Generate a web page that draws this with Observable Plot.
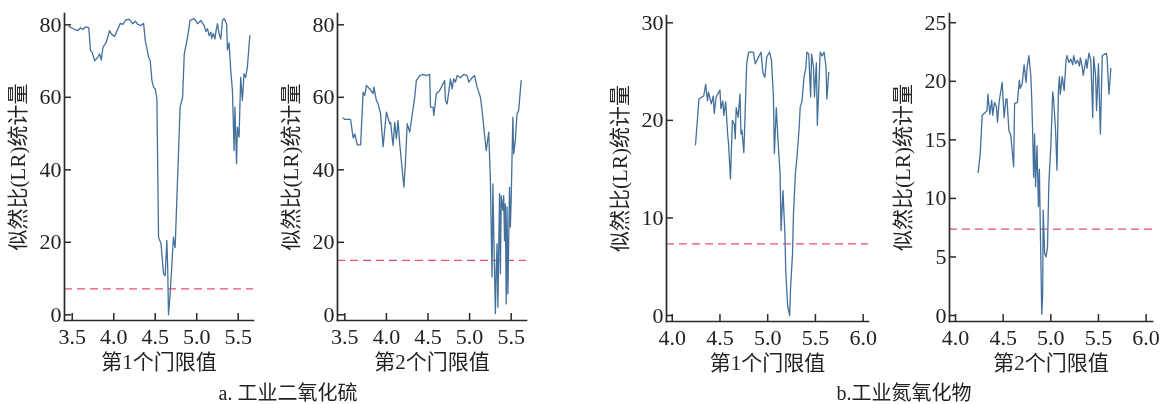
<!DOCTYPE html>
<html><head><meta charset="utf-8">
<script src="https://cdn.jsdelivr.net/npm/d3@7"></script>
<script src="https://cdn.jsdelivr.net/npm/@observablehq/plot@0.6"></script>
<style>
body{margin:0;background:#fff;}
#wrap{position:relative;width:1160px;height:404px;overflow:hidden;font-family:"Liberation Serif","Noto Sans CJK SC",serif;}
.panel{position:absolute;top:0;will-change:transform;transform:translateZ(0);}
.cap{position:absolute;top:377px;font-size:20px;color:#222;white-space:nowrap;transform:translateX(-50%);}
</style></head><body><div id="wrap"></div>
<script>
// ---- Data ----
const yLabel = "似然比(LR)统计量";
const xLabels = ["第1个门限值", "第2个门限值", "第1个门限值", "第2个门限值"];
const captions = ["a. 工业二氧化硫", "b.工业氮氧化物"];

const ticksX_a = [3.5, 4.0, 4.5, 5.0, 5.5];
const ticksY_a = [0, 20, 40, 60, 80];
const ticksX_b = [4.0, 4.5, 5.0, 5.5, 6.0];
const ticksY_b1 = [0, 10, 20, 30];
const ticksY_b2 = [0, 5, 10, 15, 20, 25];

const critical = [7.17, 15.0, 7.35, 7.38];

// a. 工业二氧化硫 — 第1个门限值
const a1x = [3.46,3.49,3.53,3.57,3.60,3.63,3.66,3.70,3.72,3.74,3.77,3.81,3.83,3.85,3.87,3.91,3.95,3.97,4.01,4.05,4.08,4.11,4.15,4.19,4.23,4.26,4.29,4.33,4.36,4.38,4.42,4.44,4.46,4.48,4.50,4.52,4.54,4.57,4.60,4.62,4.64,4.65,4.66,4.68,4.72,4.73,4.74,4.77,4.80,4.83,4.85,4.89,4.92,4.97,5.01,5.05,5.09,5.11,5.13,5.15,5.17,5.18,5.20,5.22,5.23,5.25,5.27,5.29,5.31,5.33,5.36,5.37,5.39,5.41,5.43,5.45,5.46,5.48,5.49,5.51,5.53,5.55,5.57,5.59,5.61,5.64];
const a1y = [79.5,79.2,78.7,78.4,79.2,78.7,79.4,79.2,72.9,72.4,70.1,71.1,72.0,70.3,73.8,75.2,78.4,77.5,76.8,78.9,80.4,80.1,81.4,81.5,80.3,81.0,80.1,79.8,80.4,75.7,71.1,70.1,64.6,62.8,62.3,59.6,21.4,19.6,11.3,10.8,20.5,13.1,0.0,5.8,21.4,19.6,18.6,38.0,57.3,60.0,72.0,76.6,81.2,81.7,80.3,81.2,79.8,78.2,78.9,77.0,78.0,76.3,77.6,76.1,78.0,80.3,77.5,76.1,81.2,81.7,80.3,73.1,75.0,67.4,61.9,45.3,57.3,41.7,51.8,49.0,65.5,59.1,66.5,65.5,68.3,77.0];

// a. 工业二氧化硫 — 第2个门限值
const a2x = [3.48,3.50,3.56,3.57,3.60,3.62,3.65,3.69,3.72,3.74,3.76,3.80,3.84,3.85,3.88,3.90,3.93,3.96,4.00,4.04,4.05,4.08,4.10,4.12,4.14,4.16,4.21,4.23,4.25,4.28,4.30,4.34,4.36,4.40,4.44,4.48,4.52,4.53,4.56,4.57,4.60,4.64,4.68,4.70,4.71,4.73,4.77,4.79,4.81,4.83,4.85,4.89,4.93,4.97,4.99,5.03,5.06,5.09,5.13,5.15,5.17,5.20,5.23,5.25,5.27,5.28,5.29,5.31,5.32,5.33,5.34,5.36,5.37,5.38,5.40,5.41,5.42,5.43,5.44,5.45,5.46,5.48,5.49,5.50,5.52,5.53,5.55,5.57,5.59,5.62];
const a2y = [54.3,53.9,53.9,53.8,48.8,49.9,46.9,46.9,61.4,60.5,63.3,62.3,61.0,62.8,59.1,58.2,55.4,46.4,55.9,52.7,53.1,46.7,53.1,48.6,53.6,47.2,35.2,42.6,52.7,50.4,53.6,60.0,64.6,66.0,66.3,66.0,66.3,57.3,57.3,55.0,61.0,61.9,63.7,64.6,59.1,58.2,65.1,62.3,65.1,64.2,66.0,65.4,66.3,66.0,64.2,65.4,66.0,62.8,60.0,56.4,51.8,45.3,50.4,37.0,10.4,36.1,23.3,0.3,12.2,19.6,2.1,33.4,11.3,32.9,28.8,32.9,20.5,30.6,3.0,29.8,5.8,35.2,24.2,32.0,54.5,44.4,48.1,55.4,56.4,64.6];

// b. 工业氮氧化物 — 第1个门限值
const b1x = [4.244,4.28,4.31,4.33,4.35,4.37,4.38,4.41,4.43,4.44,4.46,4.50,4.51,4.53,4.54,4.56,4.58,4.59,4.61,4.63,4.65,4.66,4.67,4.69,4.71,4.72,4.73,4.75,4.76,4.78,4.80,4.82,4.85,4.87,4.91,4.93,4.95,4.97,4.99,5.02,5.04,5.06,5.07,5.09,5.11,5.13,5.14,5.16,5.18,5.19,5.21,5.23,5.24,5.26,5.27,5.29,5.31,5.33,5.34,5.36,5.38,5.40,5.41,5.43,5.45,5.46,5.48,5.49,5.51,5.52,5.55,5.57,5.59,5.61,5.62,5.64];
const b1y = [17.5,22.2,22.4,22.5,23.7,22.0,22.9,21.7,22.5,20.7,22.4,23.1,21.2,22.0,20.5,21.9,18.6,17.6,14.0,20.0,19.6,18.1,21.3,20.3,22.7,18.6,19.0,16.7,19.6,25.8,27.0,27.0,27.0,25.8,26.6,27.0,24.9,24.4,26.5,27.0,26.1,22.4,16.6,21.3,17.6,14.5,8.7,12.8,8.4,4.3,0.9,0.0,2.9,6.3,10.4,14.5,16.6,19.3,21.3,22.0,24.4,25.4,27.0,26.8,22.4,26.8,25.4,22.4,25.9,19.5,27.0,26.6,27.0,25.6,22.2,24.9];

// b. 工业氮氧化物 — 第2个门限值
const b2x = [4.238,4.26,4.28,4.32,4.33,4.34,4.36,4.38,4.39,4.41,4.43,4.44,4.46,4.49,4.51,4.53,4.54,4.56,4.58,4.61,4.62,4.65,4.67,4.68,4.70,4.72,4.74,4.75,4.77,4.79,4.80,4.81,4.82,4.83,4.84,4.855,4.87,4.88,4.895,4.905,4.915,4.92,4.935,4.95,4.965,4.98,5.00,5.02,5.03,5.05,5.065,5.08,5.09,5.10,5.12,5.14,5.16,5.17,5.19,5.21,5.23,5.24,5.26,5.28,5.30,5.31,5.33,5.34,5.37,5.38,5.40,5.42,5.44,5.45,5.47,5.48,5.50,5.52,5.54,5.58,5.59,5.61,5.63];
const b2y = [12.2,13.9,17.1,17.4,17.5,18.9,17.2,18.4,17.1,18.2,17.8,16.5,18.4,19.9,16.9,18.5,18.5,15.8,15.4,12.7,18.1,18.2,20.1,19.4,19.8,21.4,19.9,21.1,22.2,20.5,18.4,15.5,11.8,15.5,11.0,14.5,9.3,12.5,5.0,0.1,1.9,9.0,5.3,5.0,5.8,11.4,14.4,19.1,18.4,15.8,12.4,19.2,20.4,18.9,20.4,19.2,21.8,22.2,21.6,21.9,21.4,22.2,21.5,21.8,21.3,22.0,21.2,20.5,21.9,21.1,22.4,21.8,16.9,22.1,20.4,17.5,21.5,15.5,22.2,22.4,22.1,18.9,21.1];

// ---- Layout ----
const panels = [
  {xs:a1x, ys:a1y, thr:critical[0], xd:[3.407,5.684], yd:[-1.57,83.12], xt:ticksX_a, yt:ticksY_a, xl:xLabels[0], left:0,   width:270, mL:64, mR:17,  mT:13, mB:84},
  {xs:a2x, ys:a2y, thr:critical[1], xd:[3.412,5.684], yd:[-1.57,83.12], xt:ticksX_a, yt:ticksY_a, xl:xLabels[1], left:270, width:270, mL:67, mR:14,  mT:13, mB:84},
  {xs:b1x, ys:b1y, thr:critical[2], xd:[3.940,6.056], yd:[-0.615,30.75], xt:ticksX_b, yt:ticksY_b1, xl:xLabels[2], left:590, width:290, mL:76, mR:12, mT:15, mB:83},
  {xs:b2x, ys:b2y, thr:critical[3], xd:[3.937,6.067], yd:[-0.51,25.79], xt:ticksX_b, yt:ticksY_b2, xl:xLabels[3], left:870, width:290, mL:79, mR:8,  mT:13, mB:83}
];

const wrap = document.getElementById("wrap");
const axisColor = "#2a2a2a";
const font = '"Liberation Serif","Noto Sans CJK SC",serif';

for (const p of panels) {
  const chart = Plot.plot({
    width: p.width, height: 404,
    marginLeft: p.mL, marginRight: p.mR, marginTop: p.mT, marginBottom: p.mB,
    style: {fontFamily: font, fontSize: "21px", color: "#222", background: "transparent", overflow: "visible"},
    x: {domain: p.xd},
    y: {domain: p.yd},
    marks: [
      Plot.ruleY([p.thr], {stroke: "#e8506e", strokeWidth: 1.3, strokeDasharray: "8,5"}),
      Plot.line(p.xs, {x: p.xs, y: p.ys, stroke: "#44709c", strokeWidth: 1.3}),
      Plot.axisX(p.xt, {tickSize: -7, tickPadding: 15, tickFormat: d3.format(".1f"), stroke: axisColor, strokeWidth: 1.5,
        fontSize: 22, label: null}),
      Plot.axisX([], {tickSize: 0, fontSize: 21, label: p.xl, labelAnchor: "center", labelArrow: "none", labelOffset: 48}),
      Plot.axisY(p.yt, {tickSize: -7, tickPadding: 10, tickFormat: d3.format("d"), stroke: axisColor, strokeWidth: 1.5,
        fontSize: 22, label: null}),
      Plot.axisY([], {tickSize: 0, fontSize: 21, label: yLabel, labelAnchor: "center", labelArrow: "none", labelOffset: 54}),
      Plot.frame({anchor: "left", stroke: axisColor, strokeWidth: 1.7}),
      Plot.frame({anchor: "bottom", stroke: axisColor, strokeWidth: 1.7})
    ]
  });
  chart.classList.add("panel");
  chart.style.left = p.left + "px";
  wrap.appendChild(chart);
}

const capPos = [288, 904];
captions.forEach((c, i) => {
  const d = document.createElement("div");
  d.className = "cap";
  d.style.left = capPos[i] + "px";
  d.textContent = c;
  wrap.appendChild(d);
});
</script>
</body></html>
